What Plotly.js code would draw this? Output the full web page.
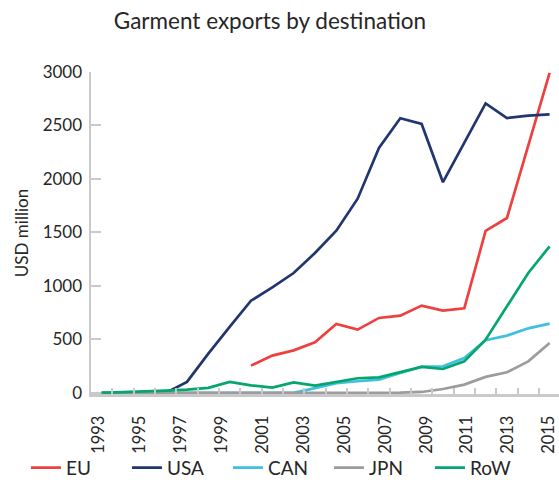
<!DOCTYPE html>
<html>
<head>
<meta charset="utf-8">
<script src="https://cdn.plot.ly/plotly-3.0.1.min.js"></script>
<style>html,body{margin:0;padding:0;background:#fff;}#chart{width:559px;height:493px;}</style>
</head>
<body>
<div id="chart"></div>
<script>
// Data years (one point per year)
const years = [1993,1994,1995,1996,1997,1998,1999,2000,2001,2002,2003,2004,2005,2006,2007,2008,2009,2010,2011,2012,2013,2014];
// Axis labels printed under the chart
const labelYears = [1993,1995,1997,1999,2001,2003,2005,2007,2009,2011,2013,2015];

const EU  = [null,null,null,null,null,null,null,255,349,398,473,645,592,701,722,816,769,791,1514,1635,2313,2991];
const USA = [0,0,0,0,103,367,617,862,987,1121,1308,1517,1816,2290,2567,2514,1970,2340,2707,2570,2592,2604];
const CAN = [0,0,0,0,0,0,0,0,0,0,45,92,109,124,187,246,249,327,492,536,604,648];
const JPN = [0,0,0,0,0,0,0,0,0,0,0,1,1,2,3,9,37,78,150,193,295,467];
const RoW = [0,5,15,21,31,47,103,71,50,99,68,100,137,146,193,243,224,295,498,810,1121,1370];

const seriesNames = ['EU','USA','CAN','JPN','RoW'];
const seriesData = [EU, USA, CAN, JPN, RoW];
const colors = ['#ef4040','#22366e','#41bfe0','#9c9c9c','#05a66b'];

const FONT = 'Lato, "Open Sans", sans-serif';
const TXT = '#262626';
const AX = '#c9c9c9';

const traces = seriesNames.map((n, i) => ({
  type: 'scatter', mode: 'lines', name: n,
  x: years, y: seriesData[i],
  line: {color: colors[i], width: 2.7},
  connectgaps: false, hoverinfo: 'x+y+name'
}));
// empty carrier so the year-label axis is drawn (draws nothing)
traces.push({type: 'scatter', mode: 'lines', x: labelYears, y: labelYears.map(() => null),
             xaxis: 'x2', yaxis: 'y', showlegend: false, hoverinfo: 'skip'});

const layout = {
  width: 559, height: 493,
  margin: {l: 91, r: 0, t: 72, b: 99, autoexpand: false},
  paper_bgcolor: '#fff', plot_bgcolor: '#fff',
  font: {family: FONT, color: TXT, size: 17},
  title: {text: 'Garment exports by destination', x: 0.483, xanchor: 'center', y: 0.958, yanchor: 'middle',
          font: {family: FONT, size: 22.5, color: TXT}},
  showlegend: true,
  legend: {orientation: 'h', x: -0.139, xanchor: 'left', y: -0.229, yanchor: 'middle',
           bgcolor: 'rgba(0,0,0,0)',
           font: {family: FONT, size: 19, color: TXT}, entrywidth: 56, entrywidthmode: 'pixels',
           traceorder: 'normal'},
  xaxis: {
    type: 'linear', range: [1992.5, 2014.44],
    showline: true, linecolor: AX, linewidth: 2.5,
    showgrid: false, zeroline: false,
    showticklabels: false,
    tickmode: 'linear', tick0: 1993.5, dtick: 1,
    ticks: 'inside', ticklen: 6, tickwidth: 2, tickcolor: AX,
    fixedrange: true
  },
  xaxis2: {
    type: 'linear', overlaying: 'x', anchor: 'y', side: 'bottom',
    range: [1992.624, 2015.488],
    tickmode: 'array', tickvals: labelYears, ticktext: labelYears.map(String),
    tickangle: -90, ticks: 'outside', ticklen: 14, tickcolor: 'rgba(0,0,0,0)',
    showline: false, showgrid: false, zeroline: false,
    tickfont: {family: FONT, size: 16.5, color: TXT},
    fixedrange: true
  },
  yaxis: {
    range: [-10, 3000],
    tickmode: 'array', tickvals: [0,500,1000,1500,2000,2500,3000],
    showline: true, linecolor: AX, linewidth: 2.5,
    showgrid: false, zeroline: false,
    ticks: 'inside', ticklen: 10, tickwidth: 2, tickcolor: AX,
    ticklabelstandoff: 3,
    tickfont: {family: FONT, size: 17, color: TXT},
    title: {text: 'USD million', standoff: 10, font: {family: FONT, size: 17, color: TXT}},
    fixedrange: true
  }
};

Plotly.newPlot('chart', traces, layout, {displayModeBar: false, staticPlot: true});
</script>
</body>
</html>
